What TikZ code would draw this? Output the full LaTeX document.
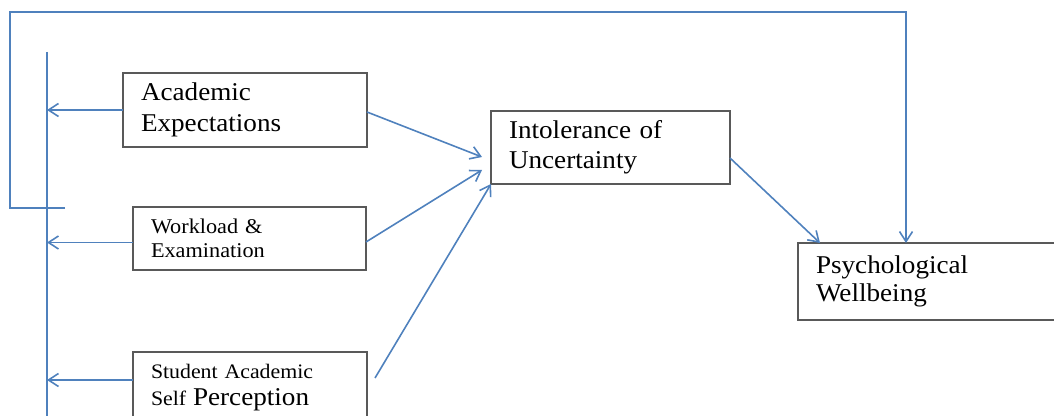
\documentclass[tikz,border=0pt]{standalone}
\usepackage{fontspec}
\setmainfont{Liberation Serif}[FakeStretch=1.06]
\usetikzlibrary{arrows.meta}
\definecolor{linkblue}{RGB}{79,129,189}
\begin{document}
\begin{tikzpicture}[x=0.5pt, y=-0.5pt,
    box/.style={draw=black!65, line width=0.8pt, outer sep=0pt, inner xsep=9pt, anchor=north west, align=left},
    link/.style={draw=linkblue, line width=0.8pt},
    tip/.style={-{Straight Barb[length=5pt,width=6.5pt]}}]
    \useasboundingbox (0,0) rectangle (1054,416);
    \node[box, minimum width=122pt, text width=104pt, minimum height=37pt, font=\fontsize{12.8}{15.8}\selectfont] (acad) at (123,73) {Academic\\Expectations};
    \node[box, minimum width=116.5pt, text width=98.5pt, minimum height=31.5pt, font=\fontsize{10.5}{11.7}\selectfont] (work) at (133,207) {Workload \&\\Examination};
    \node[box, minimum width=117pt, text width=99pt, minimum height=35.5pt, font=\fontsize{10.3}{13.3}\selectfont] (stud) at (133,352) {Student Academic\\Self {\fontsize{12.8}{13.3}\selectfont Perception}};
    \node[box, minimum width=119.5pt, text width=101.5pt, minimum height=36.5pt, font=\fontsize{12.8}{15}\selectfont] (unc) at (491,111) {Intolerance of\\Uncertainty};
    \node[box, minimum width=132pt, text width=114pt, minimum height=38.5pt, font=\fontsize{12.8}{13.7}\selectfont] (psy) at (798,243) {Psychological\\Wellbeing};
    \coordinate (bartop) at (47,52);
    \coordinate (fb) at (65,208);
    \coordinate (fbtop) at (906,12);
    \coordinate (w1) at ([yshift=-2pt]work.west);
    \coordinate (s1) at ([yshift=3.75pt]stud.west);
    \draw[link] (bartop) -- (47,430);
    \draw[link, tip] (acad.west) -- (acad.west -| bartop);
    \draw[link, tip] (w1) -- (w1 -| bartop);
    \draw[link, tip] (s1) -- (s1 -| bartop);
    \draw[link, tip] (fb) -- (10,208) |- (fbtop) -- (fbtop |- psy.north);
    \draw[link, tip] ([yshift=-1pt]acad.east) -- ([xshift=-4.5pt,yshift=-4.75pt]unc.west);
    \draw[link, tip] ([yshift=-1.75pt]work.east) -- ([xshift=-4.5pt,yshift=-11.25pt]unc.west);
    \draw[link, tip] ([xshift=4pt,yshift=4.75pt]stud.east) -- (unc.south west);
    \draw[link, tip] ([yshift=-5.25pt]unc.east) -- ([xshift=11pt]psy.north west);
\end{tikzpicture}
\end{document}
